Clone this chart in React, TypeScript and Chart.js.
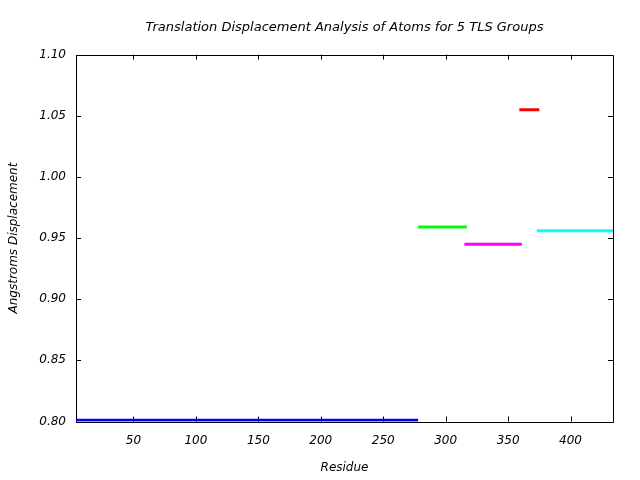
import React, { useEffect, useRef } from "react";
import { Chart, registerables } from "chart.js";

Chart.register(...registerables);

const groupNames = ["Group 1", "Group 2", "Group 3", "Group 4", "Group 5"];
const groupStarts = [4, 278, 315, 359, 373];
const groupEnds = [278, 317, 361, 375, 434];
const groupValues = [0.801, 0.959, 0.945, 1.055, 0.956];
const groupColors = ["#0000ff", "#00ff00", "#ff00ff", "#ff0000", "#00ffff"];

const xTickValues = [50, 100, 150, 200, 250, 300, 350, 400];
const yTickValues = [0.8, 0.85, 0.9, 0.95, 1.0, 1.05, 1.1];

const titleText = "Translation Displacement Analysis of Atoms for 5 TLS Groups";
const xTitle = "Residue";
const yTitle = "Angstroms Displacement";

const FONT = "'DejaVu Sans', sans-serif";

const boxPlugin = {
  id: "boxTicks",
  beforeDatasetsDraw(chart: any) {
    const { ctx, chartArea } = chart;
    const { left, right, top, bottom } = chartArea;
    const xs = chart.scales.x;
    const ys = chart.scales.y;
    const tl = 5;
    ctx.save();
    ctx.strokeStyle = "#000";
    ctx.lineWidth = 1;
    ctx.beginPath();
    ctx.rect(Math.round(left) + 0.5, Math.round(top) + 0.5, Math.round(right - left), Math.round(bottom - top));
    for (const v of xTickValues) {
      const px = Math.round(xs.getPixelForValue(v)) + 0.5;
      ctx.moveTo(px, bottom);
      ctx.lineTo(px, bottom - tl);
      ctx.moveTo(px, top);
      ctx.lineTo(px, top + tl);
    }
    for (const v of yTickValues) {
      const py = Math.round(ys.getPixelForValue(v)) + 0.5;
      ctx.moveTo(left, py);
      ctx.lineTo(left + tl, py);
      ctx.moveTo(right, py);
      ctx.lineTo(right - tl, py);
    }
    ctx.stroke();
    ctx.restore();
  },
};

export default function App() {
  const ref = useRef<HTMLCanvasElement | null>(null);
  useEffect(() => {
    if (!ref.current) return;
    const datasets = groupNames.map((name, i) => ({
      label: name,
      data: [
        { x: groupStarts[i], y: groupValues[i] },
        { x: groupEnds[i], y: groupValues[i] },
      ],
      borderColor: groupColors[i],
      backgroundColor: groupColors[i],
      borderWidth: 3,
      pointRadius: 0,
      fill: false,
    }));
    const chart = new Chart(ref.current, {
      type: "line",
      data: { datasets },
      plugins: [boxPlugin],
      options: {
        animation: false,
        responsive: false,
        maintainAspectRatio: false,
        layout: { padding: { left: 0, right: 27, top: 0, bottom: 0 } },
        plugins: {
          legend: { display: false },
          tooltip: { enabled: false },
          title: {
            display: true,
            text: titleText,
            fullSize: false,
            color: "#000",
            font: { family: FONT, size: 13, style: "italic", weight: "normal" },
            padding: { top: 19.5, bottom: 19.5 },
          },
        },
        scales: {
          x: {
            type: "linear",
            min: 4,
            max: 434,
            afterFit: (s: any) => {
              s.height = 58.5;
            },
            afterBuildTicks: (s: any) => {
              s.ticks = xTickValues.map((v) => ({ value: v }));
            },
            grid: { display: false, drawTicks: false, drawOnChartArea: false },
            border: { display: false },
            ticks: {
              color: "#000",
              padding: 12,
              maxRotation: 0,
              autoSkip: false,
              font: { family: FONT, size: 12, style: "italic" },
              callback: (v: any) => String(v),
            },
            title: {
              display: true,
              text: xTitle,
              color: "#000",
              font: { family: FONT, size: 12, style: "italic" },
              padding: { top: 0, bottom: 5 },
            },
          },
          y: {
            type: "linear",
            min: 0.8,
            max: 1.1,
            afterFit: (s: any) => {
              s.width = 76;
            },
            afterBuildTicks: (s: any) => {
              s.ticks = yTickValues.map((v) => ({ value: v }));
            },
            grid: { display: false, drawTicks: false, drawOnChartArea: false },
            border: { display: false },
            ticks: {
              color: "#000",
              padding: 10,
              autoSkip: false,
              font: { family: FONT, size: 12, style: "italic" },
              callback: (v: any) => Number(v).toFixed(2),
            },
            title: {
              display: true,
              text: yTitle,
              color: "#000",
              font: { family: FONT, size: 12, style: "italic" },
              padding: { top: 7, bottom: 0 },
            },
          },
        },
      },
    });
    return () => chart.destroy();
  }, []);
  return (
    <div style={{ position: "absolute", left: 0, top: 0, width: 640, height: 480, background: "#fff" }}>
      <canvas ref={ref} width={640} height={480} style={{ width: 640, height: 480 }} />
    </div>
  );
}
